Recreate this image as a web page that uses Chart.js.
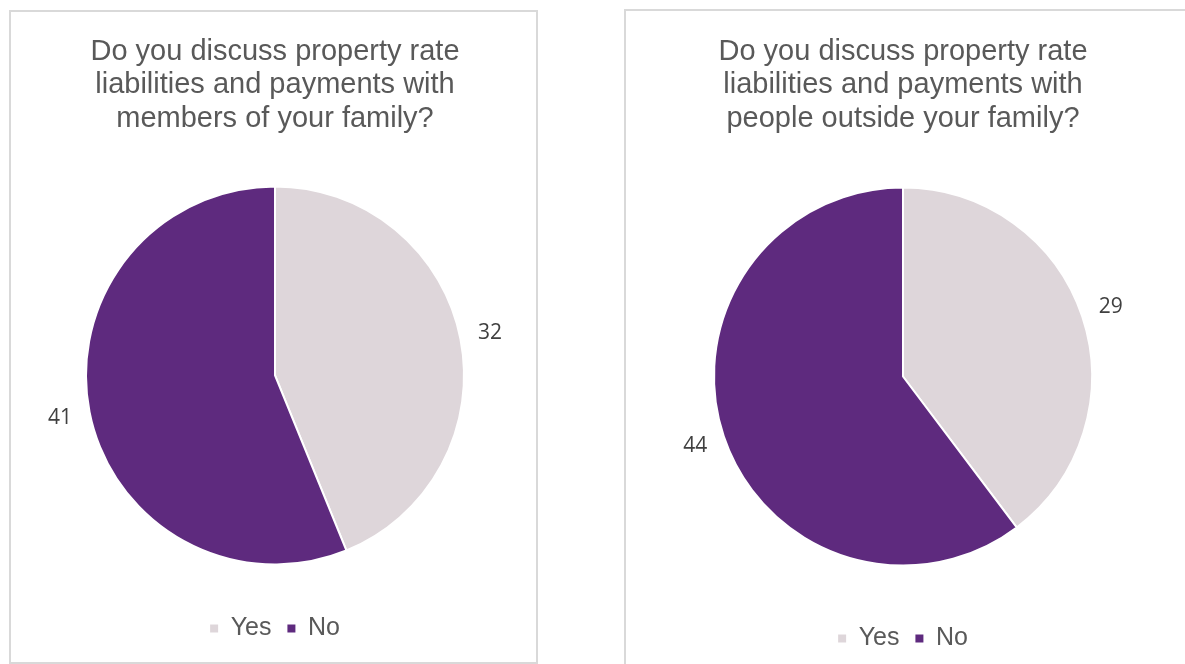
<!DOCTYPE html>
<html>
<head>
<meta charset="utf-8">
<script src="https://cdn.jsdelivr.net/npm/chart.js@4.4.1/dist/chart.umd.min.js"></script>
<style>
    html, body { margin: 0; padding: 0; background: #ffffff; overflow: hidden; width: 1185px; height: 664px; }
    .painel { position: absolute; box-sizing: border-box; border: 2px solid #d9d9d9; background: #fff; }
    #painelFamilia { left: 9px; top: 10px; width: 529px; height: 654px; }
    #painelFora { left: 624px; top: 9px; width: 600px; height: 670px; }
    .painel canvas { display: block; }
</style>
</head>
<body>

<div class="painel" id="painelFamilia"><canvas id="graficoFamilia"></canvas></div>
<div class="painel" id="painelFora"><canvas id="graficoFora"></canvas></div>

<script>
// dados
const categorias = ['Yes', 'No'];
const valoresFamilia = [32, 41];
const valoresFora = [29, 44];
const tituloFamilia = ['Do you discuss property rate', 'liabilities and payments with', 'members of your family?'];
const tituloFora = ['Do you discuss property rate', 'liabilities and payments with', 'people outside your family?'];

const cores = ['#ded6da', '#5e2a7e'];

document.addEventListener("DOMContentLoaded", function () {

    /* =========================
       RÓTULOS FORA DAS FATIAS
    ========================= */

    const rotulosFora = {
        id: 'rotulosFora',
        afterDatasetsDraw(chart) {
            const ctx = chart.ctx;
            const meta = chart.getDatasetMeta(0);
            const dados = chart.data.datasets[0].data;
            ctx.save();
            ctx.font = '21px "Open Sans", sans-serif';
            ctx.fillStyle = '#404040';
            ctx.textAlign = 'center';
            ctx.textBaseline = 'middle';
            meta.data.forEach((arco, i) => {
                const p = arco.getProps(['x', 'y', 'startAngle', 'endAngle', 'outerRadius'], true);
                const meio = (p.startAngle + p.endAngle) / 2;
                const dist = p.outerRadius + 30;
                ctx.fillText(String(dados[i]), p.x + Math.cos(meio) * dist, p.y + Math.sin(meio) * dist);
            });
            ctx.restore();
        }
    };

    // legenda sem a borda branca das fatias
    function gerarLegenda(chart) {
        return Chart.overrides.pie.plugins.legend.labels.generateLabels(chart)
            .map(item => ({ ...item, lineWidth: 0, strokeStyle: item.fillStyle }));
    }

    function criarPizza(id, valores, titulo, padding, tituloPad) {
        const ctx = document.getElementById(id);
        return new Chart(ctx, {
            type: 'pie',
            data: {
                labels: categorias,
                datasets: [{
                    data: valores,
                    backgroundColor: cores,
                    borderColor: '#ffffff',
                    borderWidth: 2
                }]
            },
            options: {
                responsive: true,
                maintainAspectRatio: false,
                animation: false,
                layout: { padding: padding },
                plugins: {
                    tooltip: { enabled: false },
                    title: {
                        display: true,
                        text: titulo,
                        color: '#595959',
                        font: { family: '"Liberation Sans", Arial, sans-serif', size: 29, weight: 'normal', lineHeight: 1.155 },
                        padding: tituloPad
                    },
                    legend: {
                        position: 'bottom',
                        labels: {
                            color: '#595959',
                            font: { family: '"Liberation Sans", Arial, sans-serif', size: 25 },
                            usePointStyle: true,
                            pointStyle: 'rect',
                            boxWidth: 8,
                            boxHeight: 8,
                            padding: 16,
                            generateLabels: gerarLegenda
                        }
                    }
                }
            },
            plugins: [rotulosFora]
        });
    }

    /* =========================
       GRÁFICO FAMÍLIA
    ========================= */

    criarPizza('graficoFamilia', valoresFamilia, tituloFamilia,
        { left: 74, right: 71, top: 0, bottom: 11 },
        { top: 23, bottom: 15.5 });

    /* =========================
       GRÁFICO FORA DA FAMÍLIA
    ========================= */

    criarPizza('graficoFora', valoresFora, tituloFora,
        { left: 87, right: 129, top: 0, bottom: 16 },
        { top: 24, bottom: 7.5 });

});
</script>
</body>
</html>
